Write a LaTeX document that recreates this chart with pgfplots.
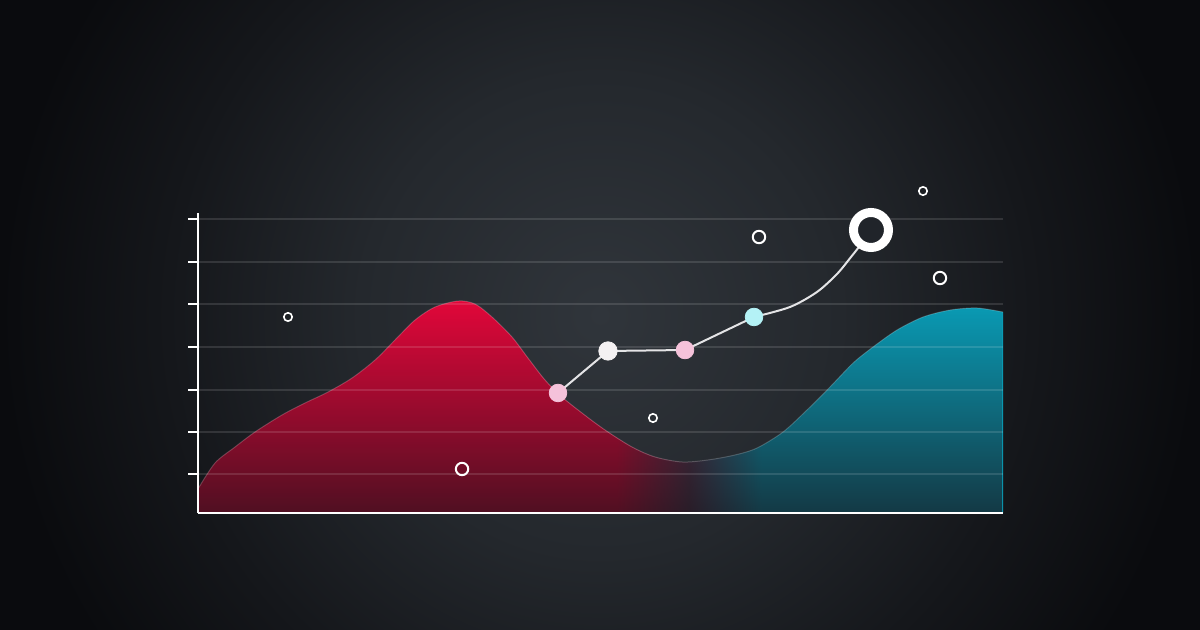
\documentclass[border=0pt]{standalone}
\usepackage{pgfplots}
\usepackage{pgfplotstable}
\pgfplotsset{compat=1.18}
\usetikzlibrary{fadings}
\definecolor{redA}{HTML}{E2073A}
\definecolor{midA}{HTML}{563750}
\definecolor{tealA}{HTML}{0A9DB7}
\definecolor{darkOv}{HTML}{181319}
\definecolor{pinkM}{HTML}{F5C2DA}
\definecolor{whiteM}{HTML}{F4F1F2}
\definecolor{cyanM}{HTML}{B4F2F6}
\definecolor{lineC}{HTML}{E4E4E6}
\definecolor{ringIn}{HTML}{20242A}
\definecolor{bgA}{HTML}{30353B}
\definecolor{bgB}{HTML}{24282D}
\definecolor{bgC}{HTML}{15171B}
\definecolor{bgD}{HTML}{0A0B0E}
\pgfdeclareradialshading{bgshade}{\pgfpoint{0bp}{0bp}}{color(0bp)=(bgA); color(10bp)=(bgB); color(18bp)=(bgC); color(25bp)=(bgD); color(50bp)=(bgD)}
\pgfdeclarehorizontalshading{areashade}{100bp}{color(0bp)=(redA); color(25bp)=(redA); color(51bp)=(redA); color(55.5bp)=(midA); color(60bp)=(tealA); color(75bp)=(tealA); color(100bp)=(tealA)}

\pgfplotstableread{
x y
0 0.565
0.211 1.176
0.460 1.553
0.708 1.906
1.043 2.306
1.329 2.588
1.615 2.847
1.913 3.176
2.199 3.600
2.447 4.071
2.696 4.541
2.944 4.847
3.230 4.988
3.441 4.918
3.652 4.612
3.901 4.141
4.099 3.647
4.311 3.129
4.522 2.729
4.770 2.353
5.056 1.953
5.391 1.553
5.677 1.318
6.012 1.200
6.335 1.247
6.671 1.365
6.944 1.529
7.267 1.906
7.565 2.424
7.851 2.965
8.137 3.529
8.385 3.906
8.683 4.306
9.006 4.612
9.342 4.776
9.677 4.824
10 4.729
}\areadata

\begin{document}
\begin{tikzpicture}
\path[use as bounding box] (0,0) rectangle (600pt,315pt);
\begin{scope}
\clip (0,0) rectangle (600pt,315pt);
\shade[shading=bgshade] (0,-142.5pt) rectangle (600pt,457.5pt);
\end{scope}
\begin{axis}[
  at={(99pt,58.5pt)}, anchor=south west,
  scale only axis, width=402.5pt, height=150pt,
  xmin=0, xmax=10, ymin=0, ymax=7.059,
  clip=false, axis on top,
  axis lines=left,
  axis line style={-, color=white, line width=1.3pt},
  xtick=\empty,
  ytick={0.918,1.906,2.894,3.906,4.918,5.906,6.918},
  yticklabel=\empty,
  tick align=outside, major tick length=5pt,
  ytick style={white, line width=1.2pt},
]
\addplot[draw=none, shade, shading=areashade, smooth, tension=0.5] table {\areadata} \closedcycle;
\addplot[draw=none, fill=darkOv, fill opacity=0.72, path fading=north, smooth, tension=0.5] table {\areadata} \closedcycle;
\addplot[smooth, tension=0.5, draw=white, draw opacity=0.2, line width=0.5pt] table {\areadata};
% grid lines
\addplot[white, opacity=0.12, line width=0.9pt, unbounded coords=jump] coordinates {
(0,0.918)(10,0.918)(nan,nan)
(0,1.906)(10,1.906)(nan,nan)
(0,2.894)(10,2.894)(nan,nan)
(0,3.906)(10,3.906)(nan,nan)
(0,4.918)(10,4.918)(nan,nan)
(0,5.906)(10,5.906)(nan,nan)
(0,6.918)(10,6.918)};
% connecting line
\addplot[lineC, line width=1pt] coordinates {(4.472,2.824)(5.093,3.812)(6.050,3.835)(6.907,4.612)};
\addplot[lineC, line width=1pt, smooth] coordinates {(6.907,4.612)(7.354,4.847)(7.689,5.200)(7.938,5.624)(8.112,6.024)(8.248,6.353)(8.360,6.659)};
% points
\addplot[pinkM, only marks, mark=*, mark size=4.4pt, mark options={draw=pinkM, fill=pinkM, line width=0.4pt}] coordinates {(4.472,2.824)(6.050,3.835)};
\addplot[whiteM, only marks, mark=*, mark size=4.6pt, mark options={draw=whiteM, fill=whiteM, line width=0.4pt}] coordinates {(5.093,3.812)};
\addplot[cyanM, only marks, mark=*, mark size=4.4pt, mark options={draw=cyanM, fill=cyanM, line width=0.4pt}] coordinates {(6.907,4.612)};
\addplot[white, only marks, mark=*, mark size=8.75pt, mark options={draw=white, fill=ringIn, line width=4.5pt}] coordinates {(8.360,6.659)};
% scattered rings
\addplot[white, only marks, mark=o, mark size=2.1pt, mark options={draw=white, line width=0.8pt}] coordinates {(1.118,4.612)(5.652,2.235)(9.006,7.576)};
\addplot[white, only marks, mark=o, mark size=3.1pt, mark options={draw=white, line width=1pt}] coordinates {(3.280,1.035)(6.969,6.494)(9.217,5.529)};
\end{axis}
\end{tikzpicture}
\end{document}
